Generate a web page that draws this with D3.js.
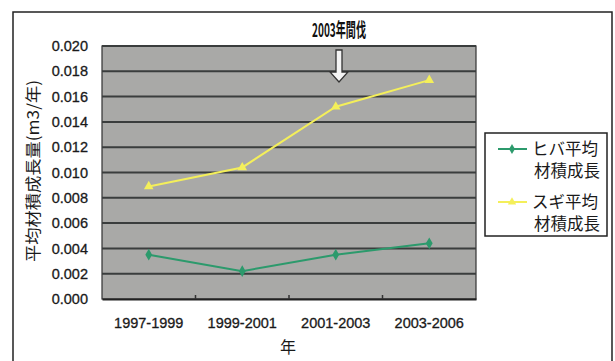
<!DOCTYPE html>
<html><head><meta charset="utf-8">
<script src="https://cdn.jsdelivr.net/npm/d3@7"></script>
<style>
body{margin:0;background:#fff;}
svg{display:block;}
</style></head>
<body>
<svg id="chart" width="615" height="361"></svg>
<script>
const periods = ["1997-1999", "1999-2001", "2001-2003", "2003-2006"];
const hibaGrowth = [0.0035, 0.0022, 0.0035, 0.0044];
const sugiGrowth = [0.0089, 0.0104, 0.0152, 0.0173];
const yTicks = [0, 0.002, 0.004, 0.006, 0.008, 0.010, 0.012, 0.014, 0.016, 0.018, 0.020];
const seriesNames = [["ヒバ平均", "材積成長"], ["スギ平均", "材積成長"]];

const svg = d3.select("#chart");
const plot = {left: 102, right: 476, top: 46, bottom: 299};
const font = "Arial, 'Liberation Sans', 'Noto Sans CJK JP', sans-serif";
const jfont = "'Noto Sans CJK JP', sans-serif";

// outer chart frame
svg.append("path")
  .attr("d", "M13,361 V12 H612 V361")
  .attr("fill", "none").attr("stroke", "#222").attr("stroke-width", 1.5);

const x = d3.scaleBand().domain(periods).range([plot.left, plot.right]);
const y = d3.scaleLinear().domain([0, 0.020]).range([plot.bottom, plot.top]);

// plot area background
svg.append("rect")
  .attr("x", plot.left).attr("y", plot.top)
  .attr("width", plot.right - plot.left).attr("height", plot.bottom - plot.top)
  .attr("fill", "#a9a9a7").attr("stroke", "#333").attr("stroke-width", 1.2);

// horizontal gridlines
svg.append("g").selectAll("line").data(yTicks.slice(1)).join("line")
  .attr("x1", plot.left).attr("x2", plot.right)
  .attr("y1", d => y(d)).attr("y2", d => y(d))
  .attr("stroke", "#3a3d3d").attr("stroke-width", 2);

// y axis
const yAxis = svg.append("g").attr("transform", `translate(${plot.left},0)`)
  .call(d3.axisLeft(y).tickValues(yTicks).tickFormat(d3.format(".3f")).tickSize(0).tickPadding(14));
yAxis.select(".domain").remove();
yAxis.selectAll("text").attr("font-family", font).attr("font-size", 14.5).attr("fill", "#1a1a1a")
  .attr("stroke", "#1a1a1a").attr("stroke-width", 0.3);

// x axis
const xAxis = svg.append("g").attr("transform", `translate(0,${plot.bottom})`)
  .call(d3.axisBottom(x).tickSize(0).tickPadding(19));
xAxis.select(".domain").attr("stroke", "#222").attr("stroke-width", 2);
xAxis.selectAll("text").attr("font-family", font).attr("font-size", 14.5).attr("fill", "#1a1a1a")
  .attr("stroke", "#1a1a1a").attr("stroke-width", 0.3);
// category separator ticks
svg.append("g").selectAll("line").data(periods.slice(1)).join("line")
  .attr("x1", d => x(d)).attr("x2", d => x(d))
  .attr("y1", plot.bottom).attr("y2", plot.bottom - 4)
  .attr("stroke", "#333").attr("stroke-width", 1.5);

// axis titles
svg.append("text").attr("x", 288).attr("y", 353).attr("text-anchor", "middle")
  .attr("font-family", jfont).attr("font-size", 16).attr("fill", "#1a1a1a").text("年");
svg.append("text").attr("transform", "translate(39,171) rotate(-90)").attr("text-anchor", "middle")
  .attr("font-family", jfont).attr("font-size", 16)
  .attr("textLength", 182).attr("lengthAdjust", "spacingAndGlyphs")
  .attr("fill", "#1a1a1a").text("平均材積成長量(m3/年)");

const line = d3.line().x((d, i) => x(periods[i]) + x.bandwidth() / 2).y(d => y(d));
const series = [
  {vals: hibaGrowth, color: "#2c9a6c", marker: "diamond"},
  {vals: sugiGrowth, color: "#f4ef5a", marker: "triangle"}
];
series.forEach(s => {
  svg.append("path").datum(s.vals).attr("d", line)
    .attr("fill", "none").attr("stroke", s.color).attr("stroke-width", 2);
  const sym = s.marker === "diamond" ? d3.symbolDiamond : d3.symbolTriangle;
  svg.append("g").selectAll("path").data(s.vals).join("path")
    .attr("transform", (d, i) => `translate(${x(periods[i]) + x.bandwidth() / 2},${y(d)})`)
    .attr("d", d3.symbol(sym, 40)).attr("fill", s.color);
});

// thinning annotation
svg.append("text").attr("x", 339).attr("y", 37).attr("text-anchor", "middle")
  .attr("font-family", jfont).attr("font-weight", "bold").attr("font-size", 19)
  .attr("textLength", 54).attr("lengthAdjust", "spacingAndGlyphs")
  .attr("fill", "#111").text("2003年間伐");
svg.append("path")
  .attr("d", "M336,50 H342 V72 H348 L339,82 L330,72 H336 Z")
  .attr("fill", "#f4f4f4").attr("stroke", "#333").attr("stroke-width", 1.3);

// legend
const lg = svg.append("g");
lg.append("rect").attr("x", 485).attr("y", 133).attr("width", 122).attr("height", 103)
  .attr("fill", "#fff").attr("stroke", "#222").attr("stroke-width", 1.5);
series.forEach((s, i) => {
  const cy = 149 + i * 53;
  lg.append("line").attr("x1", 498).attr("x2", 527).attr("y1", cy).attr("y2", cy)
    .attr("stroke", s.color).attr("stroke-width", 2);
  lg.append("path").attr("transform", `translate(512,${cy})`)
    .attr("d", d3.symbol(s.marker === "diamond" ? d3.symbolDiamond : d3.symbolTriangle, 30))
    .attr("fill", s.color);
  lg.append("text").attr("x", 598).attr("y", cy + 6).attr("text-anchor", "end")
    .attr("font-family", jfont).attr("font-size", 16.5).attr("fill", "#1a1a1a").text(seriesNames[i][0]);
  lg.append("text").attr("x", 600).attr("y", cy + 28).attr("text-anchor", "end")
    .attr("font-family", jfont).attr("font-size", 16.5).attr("fill", "#1a1a1a").text(seriesNames[i][1]);
});
</script>
</body></html>
